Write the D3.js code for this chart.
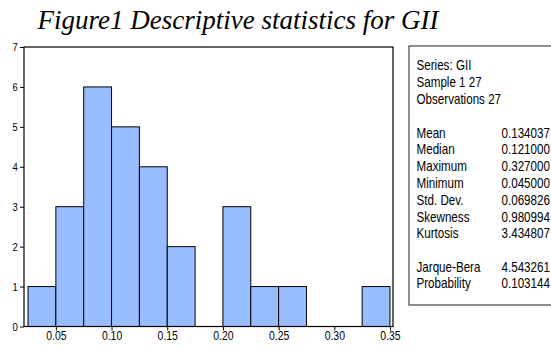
<!DOCTYPE html>
<html><head><meta charset="utf-8">
<script src="https://cdn.jsdelivr.net/npm/d3@7"></script>
<style>
body{margin:0;background:#fff;}
svg{display:block;}
</style></head>
<body>
<script>
const binStarts = [0.025,0.05,0.075,0.1,0.125,0.15,0.175,0.2,0.225,0.25,0.275,0.3,0.325];
const counts    = [1,3,6,5,4,2,0,3,1,1,0,0,1];
const binWidth = 0.025;
const xTicks = [0.05,0.10,0.15,0.20,0.25,0.30,0.35];
const yTicks = [0,1,2,3,4,5,6,7];
const statsHeader = ["Series: GII","Sample 1 27","Observations 27"];
const statLabels = ["Mean","Median","Maximum","Minimum","Std. Dev.","Skewness","Kurtosis"];
const statValues = ["0.134037","0.121000","0.327000","0.045000","0.069826","0.980994","3.434807"];
const testLabels = ["Jarque-Bera","Probability"];
const testValues = ["4.543261","0.103144"];
const title = "Figure1 Descriptive statistics for GII";

const W=551,H=347;
const svg=d3.select("body").append("svg").attr("width",W).attr("height",H);

svg.append("text").attr("x",238).attr("y",29).attr("text-anchor","middle")
  .attr("font-family","'Liberation Serif','Times New Roman',serif").attr("font-style","italic")
  .attr("font-size",27).attr("fill","#000").text(title);

const L=24,R=393,T=47,B=326.5;
const x=d3.scaleLinear().domain([0.0214,0.3527]).range([L,R]);
const y=d3.scaleLinear().domain([0,7]).range([B,T]);
const font="'Liberation Sans',Arial,sans-serif";

const bars=binStarts.map((s,i)=>({s,c:counts[i]})).filter(d=>d.c>0);
svg.append("g").selectAll("rect").data(bars).join("rect")
  .attr("x",d=>x(d.s)).attr("width",d=>x(d.s+binWidth)-x(d.s))
  .attr("y",d=>y(d.c)).attr("height",d=>y(0)-y(d.c))
  .attr("fill","#99BEFF").attr("stroke","#000").attr("stroke-width",1);

svg.append("rect").attr("x",L).attr("y",T).attr("width",R-L).attr("height",B-T)
  .attr("fill","none").attr("stroke","#000").attr("stroke-width",1.2);

const xa=svg.append("g").attr("transform",`translate(0,${B})`)
  .call(d3.axisBottom(x).tickValues(xTicks).tickFormat(d3.format(".2f")).tickSize(4).tickSizeOuter(0));
xa.select(".domain").remove();
xa.selectAll(".tick text").attr("font-family",font).attr("font-size",12).attr("fill","#000")
  .attr("y",5).attr("dy","0.75em").attr("transform","scale(0.87,1)");

const ya=svg.append("g").attr("transform",`translate(${L},0)`)
  .call(d3.axisLeft(y).tickValues(yTicks).tickFormat(d3.format("d")).tickSize(4).tickSizeOuter(0));
ya.select(".domain").remove();
ya.selectAll(".tick text").attr("font-family",font).attr("font-size",11).attr("fill","#000").attr("x",-7)
  .attr("transform","scale(0.87,1)");

// stats box
const bx=409, by=46;
svg.append("rect").attr("x",bx).attr("y",by).attr("width",160).attr("height",259)
  .attr("fill","#fff").attr("stroke","#444").attr("stroke-width",1.2);
const sc=0.83, lx=416.5, vx=501.5, fs=14, step=16.8;
const g=svg.append("g").attr("font-family",font).attr("font-size",fs).attr("fill","#000");
function put(txt,xx,yy){
  g.append("text").attr("transform",`translate(${xx},${yy}) scale(${sc},1)`).attr("dy","0.35em").text(txt);
}
statsHeader.forEach((t,i)=>put(t,lx,65+i*step));
statLabels.forEach((t,i)=>{put(t,lx,132.7+i*step);put(statValues[i],vx,132.7+i*step);});
testLabels.forEach((t,i)=>{put(t,lx,266.7+i*step);put(testValues[i],vx,266.7+i*step);});
</script>
</body></html>
